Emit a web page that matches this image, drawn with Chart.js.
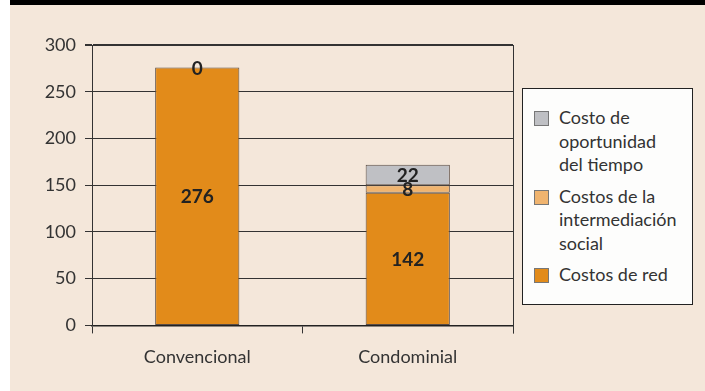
<!DOCTYPE html>
<html>
<head>
<meta charset="utf-8">
<script src="https://cdn.jsdelivr.net/npm/chart.js@4"></script>
<style>
  body { margin: 0; background: #ffffff; }
  #wrap { position: absolute; left: 10px; top: 0; width: 695px; height: 391px; background: #f4e7da; }
  #topbar { position: absolute; left: 0; top: 0; width: 695px; height: 5px; background: #000; }
  #myChart { position: absolute; left: 0; top: 0; }
  #legend { position: absolute; left: 512px; top: 88px; width: 169px; height: 215px; background: #fdfdfc;
            border: 1px solid #222; font-family: Lato, "Noto Sans", sans-serif; font-size: 18px; color: #333; }
  .item { position: relative; padding-left: 36px; line-height: 23.5px; margin-top: 8px; }
  .item:first-child { margin-top: 17px; }
  .sw { position: absolute; left: 11px; top: 5px; width: 13px; height: 13px; border: 1px solid #777; }
</style>
</head>
<body>
<div id="wrap">
  <canvas id="myChart" width="695" height="391"></canvas>
  <div id="topbar"></div>
  <div id="legend"></div>
</div>
<script>
//data

const categories = ['Convencional', 'Condominial'];
const costosRed = [276, 142];
const costosIntermediacion = [0, 8];
const costoOportunidad = [null, 22];
const seriesLabels = [
  ['Costos de red'],
  ['Costos de la', 'intermediación', 'social'],
  ['Costo de', 'oportunidad', 'del tiempo']
];
const seriesColors = ['#e28b1a', '#f0b46f', '#bfc0c4'];
const yTicks = [0, 50, 100, 150, 200, 250, 300];

const fontFamily = 'Lato, "Noto Sans", sans-serif';

//plugins

// value labels in the middle of every bar piece
const barValues = {
  id: 'barValues',
  afterDatasetsDraw(chart) {
    const c = chart.ctx;
    c.save();
    c.font = 'bold 19px ' + fontFamily;
    c.fillStyle = '#222';
    c.textAlign = 'center';
    c.textBaseline = 'middle';
    chart.data.datasets.forEach((ds, i) => {
      const meta = chart.getDatasetMeta(i);
      meta.data.forEach((bar, j) => {
        const v = ds.data[j];
        if (v === null || v === undefined) return;
        c.fillText(String(v), bar.x, (bar.y + bar.base) / 2 + 1);
      });
    });
    c.restore();
  }
};

// right border of the plot and its tick below
const frame = {
  id: 'frame',
  afterDraw(chart) {
    const a = chart.chartArea;
    const c = chart.ctx;
    c.save();
    c.strokeStyle = '#333';
    c.lineWidth = 1;
    c.beginPath();
    c.moveTo(a.right + 0.5, a.top);
    c.lineTo(a.right + 0.5, a.bottom + 8);
    c.stroke();
    c.restore();
  }
};

const ctx = document.getElementById('myChart').getContext('2d');
const datasets = [costosRed, costosIntermediacion, costoOportunidad].map((d, i) => ({
  label: seriesLabels[i].join(' '),
  data: d,
  backgroundColor: seriesColors[i],
  borderColor: '#5a4c44',
  borderWidth: 1,
  borderSkipped: false,
  categoryPercentage: 1,
  barPercentage: 0.4
}));

let myChart = new Chart(ctx, {
  type: 'bar',
  data: { labels: categories, datasets: datasets },
  plugins: [barValues, frame],
  options: {
    responsive: false,
    animation: false,
    layout: { padding: { left: 0, right: 192, top: 45, bottom: 10 } },
    plugins: { legend: { display: false }, tooltip: { enabled: false } },
    scales: {
      x: {
        stacked: true,
        offset: true,
        grid: { display: true, drawOnChartArea: false, drawTicks: true, tickLength: 8, color: '#333', offset: true },
        border: { display: true, color: '#222', width: 1.5 },
        ticks: { color: '#333', font: { family: fontFamily, size: 18 }, padding: 13 }
      },
      y: {
        stacked: true,
        min: yTicks[0],
        max: yTicks[yTicks.length - 1],
        afterFit: function (s) { s.width = 82; },
        afterBuildTicks: function (s) { s.ticks = yTicks.map(v => ({ value: v })); },
        grid: { color: '#333', lineWidth: (c) => c.tick && c.tick.value === 300 ? 2 : 1, tickLength: 7 },
        border: { display: true, color: '#333', width: 1 },
        ticks: { color: '#333', font: { family: fontFamily, size: 18 }, padding: 9 }
      }
    }
  }
});

// legend, top entry is the top of the stack
const legend = document.getElementById('legend');
for (let i = seriesLabels.length - 1; i >= 0; i--) {
  let item = document.createElement('div');
  item.className = 'item';
  let sw = document.createElement('span');
  sw.className = 'sw';
  sw.style.backgroundColor = seriesColors[i];
  item.appendChild(sw);
  seriesLabels[i].forEach(line => {
    let l = document.createElement('div');
    l.textContent = line;
    item.appendChild(l);
  });
  legend.appendChild(item);
}
</script>
</body>
</html>
